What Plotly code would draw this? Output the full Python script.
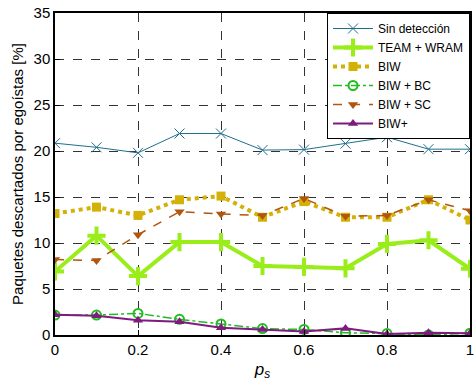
import plotly.graph_objects as go

ps = [0, 0.1, 0.2, 0.3, 0.4, 0.5, 0.6, 0.7, 0.8, 0.9, 1.0]
sin_deteccion = [20.85, 20.4, 19.8, 21.9, 21.9, 20.1, 20.15, 20.8, 21.5, 20.2, 20.2]
team_wram = [6.9, 10.8, 6.4, 10.1, 10.1, 7.5, 7.4, 7.25, 9.9, 10.3, 7.2]
biw = [13.2, 13.9, 13.0, 14.7, 15.1, 12.8, 14.5, 12.8, 12.8, 14.7, 12.5]
biw_bc = [2.17, 2.17, 2.35, 1.7, 1.2, 0.7, 0.6, 0.25, 0.15, 0.0, 0.2]
biw_sc = [8.2, 8.1, 10.9, 13.4, 13.15, 13.0, 14.85, 12.9, 13.0, 14.7, 13.5]
biw_plus = [2.2, 2.1, 1.6, 1.45, 0.8, 0.6, 0.37, 0.72, 0.1, 0.25, 0.2]

x_ticks = [0, 0.2, 0.4, 0.6, 0.8, 1]
x_ticklabels = ["0", "0.2", "0.4", "0.6", "0.8", "1"]
y_ticks = [0, 5, 10, 15, 20, 25, 30, 35]

fig = go.Figure()
fig.add_trace(go.Scatter(x=ps, y=sin_deteccion, name="Sin detección", mode="lines+markers",
                         line=dict(color="#1f6f8b", width=1),
                         marker=dict(symbol="x-thin-open", size=10, line=dict(color="#1f6f8b", width=1))))
fig.add_trace(go.Scatter(x=ps, y=team_wram, name="TEAM + WRAM", mode="lines+markers",
                         line=dict(color="#99ee1a", width=4),
                         marker=dict(symbol="cross-thin-open", size=13, line=dict(color="#99ee1a", width=4))))
fig.add_trace(go.Scatter(x=ps, y=biw, name="BIW", mode="lines+markers",
                         line=dict(color="#d4b106", width=4, dash="dot"),
                         marker=dict(symbol="square", size=9, color="#d4b106")))
fig.add_trace(go.Scatter(x=ps, y=biw_bc, name="BIW + BC", mode="lines+markers",
                         line=dict(color="#22bb22", width=1.5, dash="dashdot"),
                         marker=dict(symbol="circle-open", size=9, line=dict(color="#22bb22", width=2))))
fig.add_trace(go.Scatter(x=ps, y=biw_sc, name="BIW + SC", mode="lines+markers",
                         line=dict(color="#b0560e", width=1.5, dash="dash"),
                         marker=dict(symbol="triangle-down", size=9, color="#b0560e")))
fig.add_trace(go.Scatter(x=ps, y=biw_plus, name="BIW+", mode="lines+markers",
                         line=dict(color="#7f1a7f", width=2),
                         marker=dict(symbol="triangle-up", size=9, color="#7f1a7f")))

axis_common = dict(showline=True, linecolor="black", linewidth=1.5, mirror=True,
                   showgrid=True, gridcolor="#333333", griddash="dash", gridwidth=1,
                   zeroline=False, ticks="inside", ticklen=5, tickcolor="black",
                   ticklabeloverflow="allow",
                   tickfont=dict(family="Liberation Sans, Arial", size=15, color="black"))

fig.update_xaxes(range=[0, 1], tickvals=x_ticks, ticktext=x_ticklabels,
                 title=dict(text="<i>p<sub>s</sub></i>", font=dict(family="Liberation Sans, Arial", size=17, color="black"), standoff=6),
                 **axis_common)
fig.update_yaxes(range=[0, 35], tickvals=y_ticks,
                 title=dict(text="Paquetes descartados por egoístas [%]", font=dict(family="Liberation Sans, Arial", size=15, color="black"), standoff=6),
                 **axis_common)

fig.update_layout(
    width=476, height=383,
    margin=dict(l=55, r=2, t=13, b=48),
    paper_bgcolor="white", plot_bgcolor="white",
    font=dict(family="Liberation Sans, Arial", color="black"),
    legend=dict(x=1, y=1, xanchor="right", yanchor="top", bgcolor="white",
                bordercolor="black", borderwidth=1,
                font=dict(family="Liberation Sans, Arial", size=12, color="black"),
                tracegroupgap=0, itemwidth=40),
)

fig.write_html("out.html", config={"displayModeBar": False},
               post_script="document.body.style.margin='0';document.body.style.overflow='hidden';")
